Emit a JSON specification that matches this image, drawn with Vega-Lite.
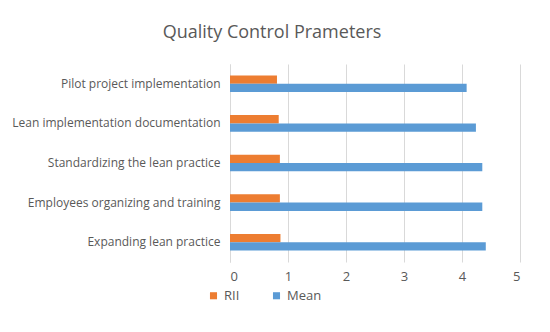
{
  "$schema": "https://vega.github.io/schema/vega-lite/v6.json",
  "width": 290,
  "height": 198,
  "autosize": {"type": "none"},
  "padding": {"left": 230, "top": 64, "right": 30, "bottom": 70},
  "background": "white",
  "config": {
    "font": "Open Sans",
    "view": {"stroke": null},
    "axis": {"labelColor": "#595959", "labelFontSize": 12, "gridColor": "#d9d9d9", "domain": false, "ticks": false}
  },
  "title": {"text": "Quality Control Prameters", "fontSize": 18, "fontWeight": "normal", "color": "#595959", "anchor": "middle", "dx": -103, "offset": 22},
  "data": {"values": [
    {"category": "Pilot project implementation", "series": "RII", "value": 0.81},
    {"category": "Pilot project implementation", "series": "Mean", "value": 4.08},
    {"category": "Lean implementation documentation", "series": "RII", "value": 0.84},
    {"category": "Lean implementation documentation", "series": "Mean", "value": 4.24},
    {"category": "Standardizing the lean practice", "series": "RII", "value": 0.86},
    {"category": "Standardizing the lean practice", "series": "Mean", "value": 4.35},
    {"category": "Employees organizing and training", "series": "RII", "value": 0.86},
    {"category": "Employees organizing and training", "series": "Mean", "value": 4.35},
    {"category": "Expanding lean practice", "series": "RII", "value": 0.87},
    {"category": "Expanding lean practice", "series": "Mean", "value": 4.41}
  ]},
  "mark": {"type": "bar"},
  "encoding": {
    "y": {"field": "category", "type": "nominal", "sort": null, "title": null,
      "scale": {"paddingInner": 0.58, "paddingOuter": 0.29},
      "axis": {"grid": false, "labelPadding": 10, "labelLimit": 400, "domain": true, "domainColor": "#d9d9d9"}},
    "yOffset": {"field": "series", "sort": ["RII", "Mean"]},
    "x": {"field": "value", "type": "quantitative", "title": null,
      "scale": {"domain": [0, 5], "nice": false},
      "axis": {"values": [0, 1, 2, 3, 4, 5], "labelPadding": 8, "labelFontSize": 13}},
    "color": {"field": "series", "type": "nominal", "sort": ["RII", "Mean"],
      "scale": {"domain": ["RII", "Mean"], "range": ["#ED7D31", "#5B9BD5"]},
      "legend": {"title": null, "orient": "none", "direction": "horizontal", "legendX": -23, "legendY": 225,
        "symbolType": "square", "symbolSize": 50, "labelFontSize": 13, "labelColor": "#595959", "columnPadding": 30, "symbolStrokeWidth": 0}}
  }
}
